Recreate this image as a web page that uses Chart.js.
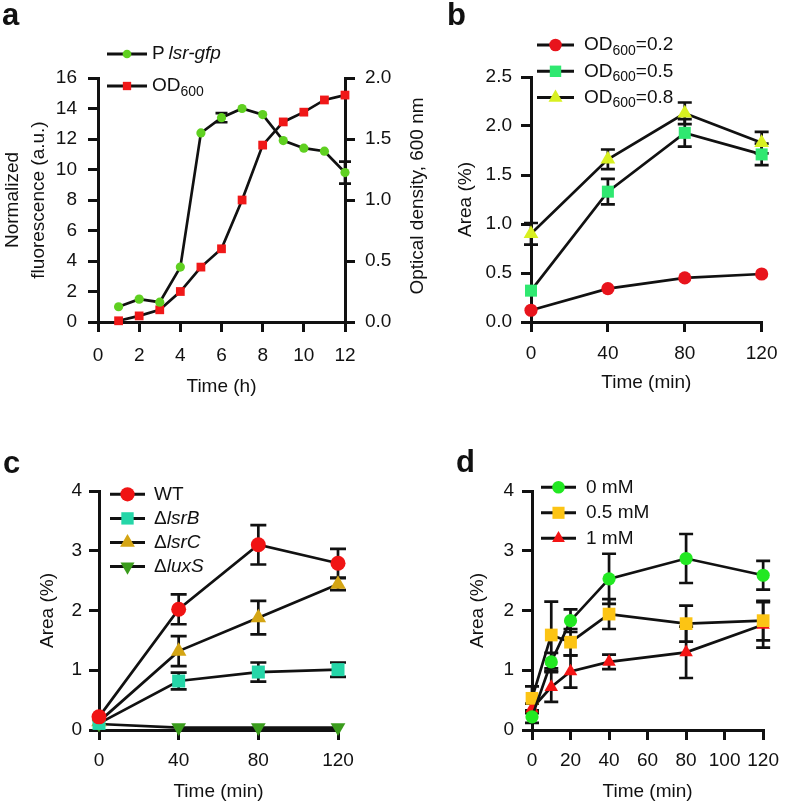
<!DOCTYPE html>
<html>
<head>
<meta charset="utf-8">
<script src="https://cdn.jsdelivr.net/npm/chart.js"></script>
<style>
  html, body { margin: 0; padding: 0; background: #fff; }
  #fig { position: relative; width: 788px; height: 805px; overflow: hidden; font-family: "Liberation Sans", Arial, sans-serif; }
  #fig canvas { position: absolute; }
  .tag { position: absolute; font-weight: bold; font-size: 31px; line-height: 31px; color: #111; }
</style>
</head>
<body>
<div id="fig">
  <canvas id="chartA" width="440" height="400" style="left:0;top:0"></canvas>
  <canvas id="chartB" width="348" height="400" style="left:440px;top:0"></canvas>
  <canvas id="chartC" width="394" height="405" style="left:0;top:400px"></canvas>
  <canvas id="chartD" width="348" height="405" style="left:440px;top:400px"></canvas>
  <div class="tag" style="left:2px;top:-1px">a</div>
  <div class="tag" style="left:447px;top:-1px">b</div>
  <div class="tag" style="left:3px;top:447px">c</div>
  <div class="tag" style="left:456px;top:446px">d</div>
</div>
<script>
// values

// a: Plsr-gfp fluorescence (left axis) and OD600 (right axis) vs time
const hoursA = [1, 2, 3, 4, 5, 6, 7, 8, 9, 10, 11, 12];
const fluorA = [1.0, 1.5, 1.3, 3.6, 12.4, 13.4, 14.0, 13.6, 11.9, 11.4, 11.2, 9.8];
const fluorErrA = [0, 0, 0, 0, 0, 0.3, 0, 0, 0, 0, 0, 0.72];
const odA = [0.01, 0.05, 0.10, 0.25, 0.45, 0.60, 1.00, 1.45, 1.64, 1.72, 1.82, 1.86];

// b: area vs time for three starting densities
const minutesB = [0, 40, 80, 120];
const od02B = [0.12, 0.34, 0.45, 0.49];
const od05B = [0.32, 1.33, 1.93, 1.71];
const od05ErrB = [0, 0.13, 0.14, 0.11];
const od08B = [0.90, 1.66, 2.13, 1.83];
const od08ErrB = [0.11, 0.10, 0.11, 0.11];

// c: area vs time for WT and mutants
const minutesC = [0, 40, 80, 120];
const wtC = [0.22, 2.02, 3.10, 2.79];
const wtErrC = [0, 0.25, 0.33, 0.24];
const lsrBC = [0.11, 0.82, 0.97, 1.01];
const lsrBErrC = [0, 0.14, 0.16, 0.12];
const lsrCC = [0.14, 1.32, 1.88, 2.44];
const lsrCErrC = [0, 0.25, 0.28, 0.10];
const luxSC = [0.10, 0.04, 0.04, 0.04];

// d: area vs time for three concentrations
const minutesD = [0, 10, 20, 40, 80, 120];
const mm0D = [0.22, 1.14, 1.83, 2.53, 2.87, 2.59];
const mm0ErrD = [0.10, 0.15, 0.19, 0.42, 0.41, 0.24];
const mm05D = [0.53, 1.59, 1.47, 1.94, 1.78, 1.83];
const mm05ErrD = [0.20, 0.56, 0.22, 0.25, 0.30, 0.33];
const mm1D = [0.36, 0.72, 0.98, 1.14, 1.30, 1.76];
const mm1ErrD = [0.08, 0.25, 0.27, 0.12, 0.43, 0.38];

// legend texts: [text, style] where i = italic, s = subscript
const legendA = [[['P', ''], ['\u2009lsr-gfp', 'i']], [['OD', ''], ['600', 's']]];
const legendB = [
  [['OD', ''], ['600', 's'], ['=0.2', '']],
  [['OD', ''], ['600', 's'], ['=0.5', '']],
  [['OD', ''], ['600', 's'], ['=0.8', '']]
];
const legendC = [[['WT', '']], [['\u0394', ''], ['lsrB', 'i']], [['\u0394', ''], ['lsrC', 'i']], [['\u0394', ''], ['luxS', 'i']]];
const legendD = [[['0 mM', '']], [['0.5 mM', '']], [['1 mM', '']]];
const rightTitleA = 'Optical density, 600 nm';

const INK = '#111';
const FAMILY = '"Liberation Sans", Arial, Helvetica, sans-serif';
Chart.defaults.font.family = FAMILY;
Chart.defaults.color = INK;

function series(xs, ys, errs, color, style, r, rot) {
  return {
    data: xs.map(function (x, i) { return { x: x, y: ys[i] }; }),
    errors: errs,
    borderColor: INK,
    borderWidth: 2.7,
    tension: 0,
    fill: false,
    clip: false,
    pointStyle: style,
    pointRotation: rot || 0,
    pointRadius: r,
    pointHoverRadius: r,
    pointBackgroundColor: color,
    pointBorderWidth: 0
  };
}

function scale(o) {
  return {
    type: 'linear',
    position: o.position,
    min: o.min,
    max: o.max,
    afterFit: o.fit,
    grid: { drawOnChartArea: false, drawTicks: true, tickLength: 10, color: INK, lineWidth: 3 },
    border: { display: true, color: INK, width: 3 },
    ticks: {
      stepSize: o.step, color: INK, padding: o.pad, maxRotation: 0, autoSkip: false,
      font: { family: FAMILY, size: 19 },
      callback: o.fmt || function (v) { return v; }
    },
    title: {
      display: o.title !== null, text: o.title || '', color: INK,
      font: { family: FAMILY, size: 19, lineHeight: 1.35 },
      padding: { top: o.titlePad, bottom: o.titlePad }
    }
  };
}

function oneDecimal(v) { return v.toFixed(1); }

function drawMarker(ctx, style, rot, r, x, y) {
  ctx.beginPath();
  if (style === 'circle') {
    ctx.arc(x, y, r, 0, Math.PI * 2);
  } else if (style === 'rect') {
    const s = r * Math.SQRT1_2;
    ctx.rect(x - s, y - s, 2 * s, 2 * s);
  } else {
    let a = rot * Math.PI / 180;
    ctx.moveTo(x + Math.sin(a) * r, y - Math.cos(a) * r);
    for (let k = 0; k < 2; k++) {
      a += Math.PI * 2 / 3;
      ctx.lineTo(x + Math.sin(a) * r, y - Math.cos(a) * r);
    }
    ctx.closePath();
  }
  ctx.fill();
}

function errorBarPlugin(cap) {
  return {
    id: 'errorBars',
    beforeDatasetsDraw: function (chart) {
      const ctx = chart.ctx;
      ctx.save();
      ctx.strokeStyle = INK;
      ctx.lineWidth = 2.7;
      chart.data.datasets.forEach(function (ds) {
        if (!ds.errors) return;
        const xs = chart.scales.x;
        const ys = chart.scales[ds.yAxisID || 'y'];
        ds.data.forEach(function (p, j) {
          const e = ds.errors[j];
          if (!e) return;
          const px = xs.getPixelForValue(p.x);
          const top = ys.getPixelForValue(p.y + e);
          const bot = ys.getPixelForValue(p.y - e);
          ctx.beginPath();
          ctx.moveTo(px, top); ctx.lineTo(px, bot);
          ctx.moveTo(px - cap, top); ctx.lineTo(px + cap, top);
          ctx.moveTo(px - cap, bot); ctx.lineTo(px + cap, bot);
          ctx.stroke();
        });
      });
      ctx.restore();
    }
  };
}

function legendPlugin(pos, labels) {
  return {
    id: 'richLegend',
    afterDraw: function (chart) {
      const ctx = chart.ctx;
      ctx.save();
      chart.data.datasets.forEach(function (ds, i) {
        const y = pos.y + i * pos.gap;
        ctx.strokeStyle = INK;
        ctx.lineWidth = 3;
        ctx.beginPath();
        ctx.moveTo(pos.x, y);
        ctx.lineTo(pos.x + pos.len, y);
        ctx.stroke();
        ctx.fillStyle = ds.pointBackgroundColor;
        drawMarker(ctx, ds.pointStyle, ds.pointRotation, ds.pointRadius * 0.95, pos.x + pos.len / 2, y);
        let tx = pos.textX;
        ctx.fillStyle = INK;
        ctx.textBaseline = 'middle';
        ctx.textAlign = 'left';
        labels[i].forEach(function (part) {
          const sub = part[1].indexOf('s') >= 0;
          const ital = part[1].indexOf('i') >= 0;
          const size = sub ? 14 : 19;
          ctx.font = (ital ? 'italic ' : '') + size + 'px ' + FAMILY;
          ctx.fillText(part[0], tx, y + (sub ? 6 : 0));
          tx += ctx.measureText(part[0]).width;
        });
      });
      ctx.restore();
    }
  };
}

// right-hand axis title that reads bottom to top, like the left one
function rightTitlePlugin(scaleId, text, inset) {
  return {
    id: 'rightTitle',
    afterDraw: function (chart) {
      const s = chart.scales[scaleId];
      const ctx = chart.ctx;
      ctx.save();
      ctx.translate(s.right - inset, (s.top + s.bottom) / 2 - 4);
      ctx.rotate(-Math.PI / 2);
      ctx.font = '19px ' + FAMILY;
      ctx.fillStyle = INK;
      ctx.textAlign = 'center';
      ctx.textBaseline = 'middle';
      ctx.fillText(text, 0, 0);
      ctx.restore();
    }
  };
}

function panel(id, cfg) {
  const plugins = [errorBarPlugin(cfg.cap), legendPlugin(cfg.legendPos, cfg.legend)];
  if (cfg.extra) plugins.push(cfg.extra);
  return new Chart(document.getElementById(id), {
    type: 'line',
    data: { datasets: cfg.datasets },
    options: {
      responsive: false,
      animation: false,
      devicePixelRatio: 1,
      layout: { padding: cfg.padding },
      plugins: { legend: { display: false }, tooltip: { enabled: false } },
      scales: cfg.scales
    },
    plugins: plugins
  });
}

// panel a
const fluorSet = series(hoursA, fluorA, fluorErrA, '#5fd020', 'circle', 4.6);
const odSet = series(hoursA, odA, null, '#f01818', 'rect', 6.2);
odSet.yAxisID = 'y1';
panel('chartA', {
  datasets: [fluorSet, odSet],
  padding: { top: 78, left: 0, right: 0, bottom: 0 },
  cap: 6,
  legend: legendA,
  legendPos: { x: 107, len: 40, textX: 152, y: 54, gap: 32 },
  extra: rightTitlePlugin('y1', rightTitleA, 22),
  scales: {
    x: scale({ position: 'bottom', min: 0, max: 12, step: 2, pad: 12, titlePad: 0,
      title: 'Time (h)', fit: function (s) { s.height = 78; } }),
    y: scale({ position: 'left', min: 0, max: 16, step: 2, pad: 11, titlePad: 0,
      title: ['Normalized', 'fluorescence (a.u.)'], fit: function (s) { s.width = 98; } }),
    y1: scale({ position: 'right', min: 0, max: 2, step: 0.5, pad: 10, titlePad: 0, fmt: oneDecimal,
      title: null, fit: function (s) { s.width = 95; } })
  }
});

// panel b
panel('chartB', {
  datasets: [
    series(minutesB, od02B, null, '#e8141c', 'circle', 6.6),
    series(minutesB, od05B, od05ErrB, '#2fe870', 'rect', 8.5),
    series(minutesB, od08B, od08ErrB, '#d8f020', 'triangle', 8.5)
  ],
  padding: { top: 77, left: 0, right: 18, bottom: 0 },
  cap: 7,
  legend: legendB,
  legendPos: { x: 97, len: 37, textX: 144, y: 45, gap: 26.3 },
  scales: {
    x: scale({ position: 'bottom', min: 0, max: 120, step: 40, pad: 10.5, titlePad: 4,
      title: 'Time (min)', fit: function (s) { s.height = 78; } }),
    y: scale({ position: 'left', min: 0, max: 2.5, step: 0.5, pad: 9, titlePad: 13, fmt: oneDecimal,
      title: 'Area (%)', fit: function (s) { s.width = 91; } })
  }
});

// panel c
panel('chartC', {
  datasets: [
    series(minutesC, wtC, wtErrC, '#f01414', 'circle', 7.5),
    series(minutesC, lsrBC, lsrBErrC, '#25d6a8', 'rect', 9.2),
    series(minutesC, lsrCC, lsrCErrC, '#d4a514', 'triangle', 9),
    series(minutesC, luxSC, null, '#3a9c1c', 'triangle', 8.5, 180)
  ],
  padding: { top: 91, left: 0, right: 56, bottom: 0 },
  cap: 8,
  legend: legendC,
  legendPos: { x: 110, len: 35, textX: 154, y: 94.3, gap: 24.1 },
  scales: {
    x: scale({ position: 'bottom', min: 0, max: 120, step: 40, pad: 9, titlePad: 0,
      title: 'Time (min)', fit: function (s) { s.height = 75; } }),
    y: scale({ position: 'left', min: 0, max: 4, step: 1, pad: 7, titlePad: 35,
      title: 'Area (%)', fit: function (s) { s.width = 99; } })
  }
});

// panel d
panel('chartD', {
  datasets: [
    series(minutesD, mm0D, mm0ErrD, '#22e822', 'circle', 6.6),
    series(minutesD, mm05D, mm05ErrD, '#fcc414', 'rect', 9),
    series(minutesD, mm1D, mm1ErrD, '#f41414', 'triangle', 7.8)
  ],
  padding: { top: 91, left: 0, right: 17, bottom: 0 },
  cap: 7,
  legend: legendD,
  legendPos: { x: 101, len: 35, textX: 146, y: 87.3, gap: 25.5 },
  scales: {
    x: scale({ position: 'bottom', min: 0, max: 120, step: 20, pad: 9, titlePad: 0,
      title: 'Time (min)', fit: function (s) { s.height = 75; } }),
    y: scale({ position: 'left', min: 0, max: 4, step: 1, pad: 8, titlePad: 25,
      title: 'Area (%)', fit: function (s) { s.width = 92; } })
  }
});
</script>
</body>
</html>
